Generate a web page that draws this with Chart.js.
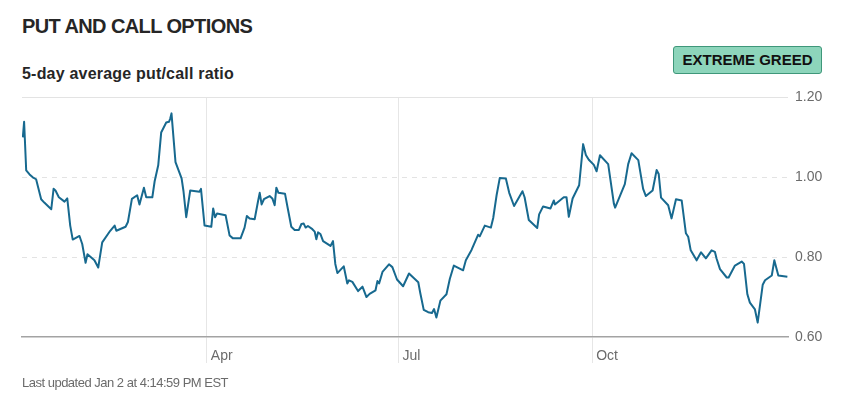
<!DOCTYPE html>
<html>
<head>
<meta charset="utf-8">
<script src="https://cdn.jsdelivr.net/npm/chart.js@4"></script>
<style>
  html, body { margin: 0; padding: 0; background: #fff; }
  body { width: 850px; height: 404px; position: relative; overflow: hidden; font-family: "Liberation Sans", Arial, sans-serif; }
  .title { position: absolute; left: 22px; top: 15px; font-size: 20px; letter-spacing: -0.6px; font-weight: bold; color: #262626; }
  .sub { position: absolute; left: 22px; top: 65px; font-size: 16px; letter-spacing: 0.2px; font-weight: bold; color: #262626; }
  .badge { position: absolute; left: 673px; top: 46px; width: 147px; height: 26px; background: #8dd5bb; border: 1px solid #3f977a; border-radius: 3px; font-size: 15px; font-weight: bold; color: #111; text-align: center; line-height: 26px; }
  .foot { position: absolute; left: 22px; top: 375px; font-size: 13px; letter-spacing: -0.5px; color: #6b6b6b; }
  .wrap { position: absolute; left: 0; top: 82px; width: 850px; height: 294px; }
</style>
</head>
<body>
<div class="title">PUT AND CALL OPTIONS</div>
<div class="sub">5-day average put/call ratio</div>
<div class="badge">EXTREME GREED</div>
<div class="wrap"><canvas id="chart"></canvas></div>
<div class="foot">Last updated Jan 2 at 4:14:59 PM EST</div>
<script>
// day of year (Jan 1 = 0)
const days = [
  2.6, 3.2, 4.2, 5.8, 7.3, 8.9, 11.3, 12.9, 16.1, 17.2, 18.1, 19.7, 22.4, 23.7, 25.1, 26.3,
  29.5, 30.8, 32.4, 33.3, 36.6, 38.4, 40.3, 44.1, 46.2, 47, 51.4, 52.5, 54.4, 56.9, 58, 60.1,
  61.2, 64.1, 65.2, 66.9, 68.3, 70.7, 72, 72.6, 73.2, 75.1, 78, 78.9, 80.2, 82.1, 86.5, 87.2,
  88.9, 92.1, 93, 93.9, 94.8, 98.9, 100.8, 102.4, 106, 107.9, 109, 110.3, 112.7, 114.3, 115.1,
  116, 117.1, 119.8, 121.1, 122.2, 123, 124, 127.1, 128.5, 130.1, 131.7, 133.7, 134.9, 136,
  136.9, 138, 140.1, 141.2, 142, 142.8, 143.9, 145.2, 148.7, 149.9, 151, 152, 155, 156.7,
  157.5, 159.1, 161.8, 163.9, 165.8, 167.3, 170.1, 171, 171.8, 173.4, 176.5, 178.1, 180.3,
  183.2, 186, 190.4, 191.4, 193, 195.1, 196.9, 197.9, 199, 200.9, 203.8, 205.4, 207.3, 211.7,
  213, 215.7, 218.8, 219.6, 222, 224.9, 226, 227.6, 229.1, 232, 233.6, 235.9, 239.9, 240.9,
  242.9, 246.9, 247.8, 249.7, 253.2, 254.8, 255.3, 259.5, 260.8, 261.9, 263.7, 266.8, 268.7,
  270, 271.4, 273.8, 275.1, 276.7, 280.6, 283.3, 283.9, 288.5, 290.1, 291.7, 294.9, 297.2,
  298.5, 301.7, 303.6, 304.6, 305.7, 309.1, 310.7, 312.8, 315.5, 317.5, 318.6, 319.8, 322.6,
  324.7, 327, 329.7, 331.3, 332.1, 333.7, 336.9, 337.8, 340.8, 344, 345.1, 346.7, 347.9,
  350.3, 351.6, 354, 355.1, 358.3, 359.5, 361.4, 365.7
];
const ratio = [
  1.100, 1.139, 1.017, 1.007, 1.000, 0.995, 0.945, 0.936, 0.920, 0.971, 0.967, 0.950, 0.939, 0.947, 0.879, 0.844,
  0.853, 0.833, 0.786, 0.807, 0.792, 0.774, 0.837, 0.866, 0.879, 0.866, 0.876, 0.888, 0.946, 0.955, 0.932, 0.974,
  0.950, 0.950, 0.990, 1.030, 1.112, 1.137, 1.139, 1.147, 1.160, 1.038, 0.997, 0.965, 0.900, 0.967, 0.964, 0.971,
  0.879, 0.876, 0.922, 0.900, 0.909, 0.905, 0.854, 0.847, 0.847, 0.874, 0.903, 0.897, 0.895, 0.940, 0.961,
  0.932, 0.945, 0.953, 0.947, 0.930, 0.974, 0.961, 0.959, 0.920, 0.876, 0.868, 0.868, 0.883, 0.884,
  0.874, 0.878, 0.870, 0.864, 0.845, 0.862, 0.858, 0.840, 0.828, 0.840, 0.783, 0.760, 0.777, 0.734,
  0.742, 0.738, 0.715, 0.726, 0.700, 0.708, 0.717, 0.740, 0.734, 0.763, 0.782, 0.775, 0.744,
  0.727, 0.759, 0.737, 0.709, 0.668, 0.662, 0.660, 0.670, 0.649, 0.691, 0.707, 0.746, 0.779, 0.767,
  0.792, 0.818, 0.856, 0.852, 0.879, 0.874, 0.898, 0.955, 0.998, 0.997, 0.961, 0.928, 0.965, 0.950,
  0.893, 0.873, 0.907, 0.927, 0.922, 0.942, 0.932, 0.950, 0.950, 0.901, 0.947, 0.980, 1.083,
  1.056, 1.044, 1.031, 1.015, 1.055, 1.033, 0.934, 0.924, 0.983, 1.033, 1.060, 1.043, 0.971,
  0.953, 0.967, 1.018, 1.008, 0.949, 0.930, 0.897, 0.945, 0.942, 0.860, 0.851, 0.817, 0.792,
  0.812, 0.797, 0.817, 0.813, 0.796, 0.770, 0.749, 0.749, 0.779, 0.789, 0.783, 0.707, 0.686,
  0.669, 0.636, 0.731, 0.742, 0.754, 0.792, 0.754, 0.751
];
const monthDays = [90, 181, 273];
const monthLabels = ['Apr', 'Jul', 'Oct'];
const yTicks = [0.6, 0.8, 1.0, 1.2];

const points = days.map((d, i) => ({x: d, y: ratio[i]}));

new Chart(document.getElementById('chart'), {
  type: 'line',
  data: {
    datasets: [{
      data: points,
      borderColor: '#17698f',
      borderWidth: 2,
      borderJoinStyle: 'round',
      pointRadius: 0,
      tension: 0,
      fill: false,
    }]
  },
  options: {
    responsive: true,
    maintainAspectRatio: false,
    animation: false,
    layout: { padding: { left: 22, top: 6, right: 0, bottom: 0 } },
    plugins: { legend: { display: false }, tooltip: { enabled: false } },
    scales: {
      x: {
        type: 'linear',
        min: 2.2,
        max: 366,
        afterBuildTicks: (s) => { s.ticks = monthDays.map(v => ({value: v})); },
        afterFit: (s) => { s.height = 39; },
        grid: { color: '#e6e6e6', lineWidth: 1, drawTicks: true, tickLength: 26 },
        border: { display: true, color: '#a3a3a3', width: 1.5 },
        ticks: {
          align: 'start',
          labelOffset: 4,
          padding: -15,
          maxRotation: 0,
          color: '#6b6b6b',
          font: { family: '"Liberation Sans", Arial, sans-serif', size: 14 },
          callback: (v) => monthLabels[monthDays.indexOf(v)],
        }
      },
      y: {
        position: 'right',
        min: 0.6,
        max: 1.2,
        afterBuildTicks: (s) => { s.ticks = yTicks.map(v => ({value: v})); },
        afterFit: (s) => { s.width = 62; },
        grid: {
          drawTicks: false,
          color: (c) => c.tick && c.tick.value === 0.6 ? 'rgba(0,0,0,0)' : '#e3e3e3',
        },
        border: {
          display: false,
          dash: (c) => c.tick && (c.tick.value === 0.8 || c.tick.value === 1.0) ? [5, 5] : [],
        },
        ticks: {
          padding: 7,
          color: '#6b6b6b',
          font: { family: '"Liberation Sans", Arial, sans-serif', size: 14 },
          callback: (v) => v.toFixed(2),
        }
      }
    }
  }
});
</script>
</body>
</html>
